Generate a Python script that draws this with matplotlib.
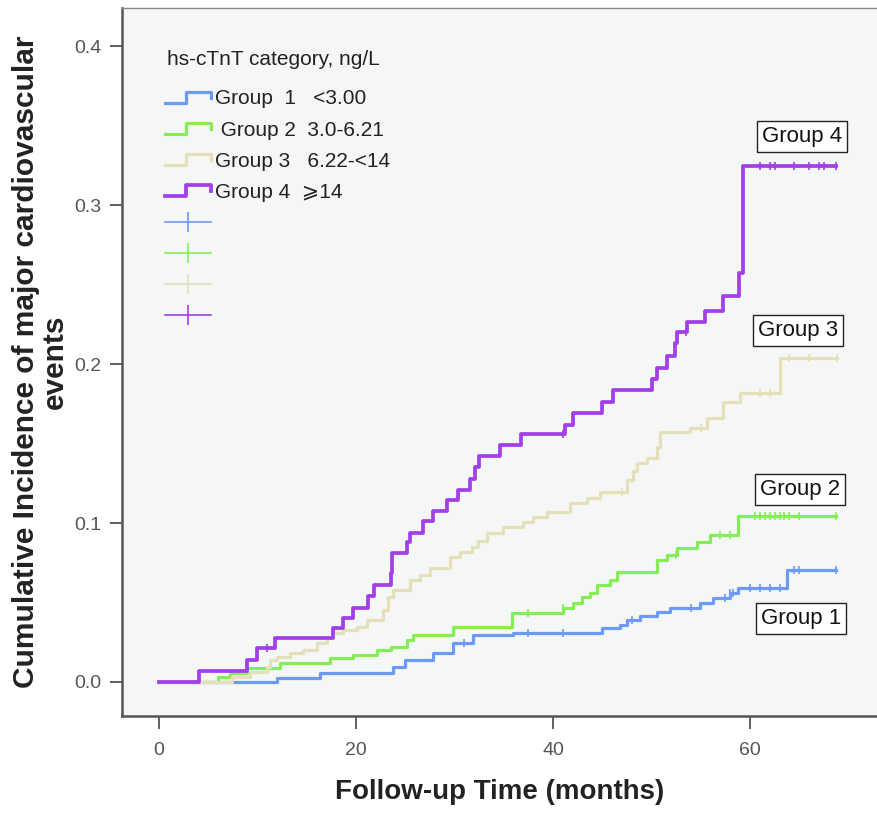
import matplotlib
matplotlib.use("Agg")
import matplotlib.pyplot as plt
import numpy as np
from matplotlib.lines import Line2D
from matplotlib.legend_handler import HandlerBase

plt.rcParams['font.family'] = ['Liberation Sans', 'DejaVu Sans', 'Noto Sans CJK SC']

# follow-up times (months) where each curve steps, and cumulative incidence after the step
g1_t = [0, 12.0, 16.3, 23.8, 25.0, 27.8, 29.8, 31.9, 35.9, 45.0, 46.8, 47.5, 48.8, 50.6, 51.9, 54.9, 56.2, 58.0, 58.8, 63.8]
g1_y = [0, 0.0025, 0.0057, 0.0094, 0.0138, 0.018, 0.0245, 0.0296, 0.031, 0.034, 0.0358, 0.039, 0.0415, 0.044, 0.0465, 0.050, 0.053, 0.056, 0.059, 0.0704]

g2_t = [0, 6.0, 7.2, 8.9, 12.3, 17.4, 19.7, 22.1, 23.5, 25.2, 25.8, 29.8, 35.8, 41.0, 42.0, 42.9, 43.8, 44.5, 45.8, 46.5, 50.6, 51.6, 52.6, 54.6, 55.9, 58.8]
g2_y = [0, 0.003, 0.0057, 0.0088, 0.012, 0.015, 0.017, 0.020, 0.022, 0.0264, 0.0296, 0.0346, 0.0434, 0.0465, 0.0497, 0.0535, 0.056, 0.061, 0.064, 0.069, 0.0767, 0.080, 0.0843, 0.088, 0.0925, 0.1044]

g3_t = [0, 7.4, 9.2, 11.0, 11.3, 12.0, 13.3, 14.6, 16.0, 17.1, 17.7, 18.7, 20.1, 21.1, 22.7, 23.2, 23.8, 25.5, 26.5, 27.5, 29.5, 30.6, 31.8, 32.4, 33.3, 34.9, 37.0, 38.0, 39.4, 41.7, 43.5, 44.8, 47.5, 48.1, 48.5, 49.5, 50.6, 50.9, 53.9, 55.6, 57.3, 59.0, 63.0]
g3_y = [0, 0.003, 0.0063, 0.0094, 0.0138, 0.0157, 0.018, 0.020, 0.0245, 0.0277, 0.031, 0.033, 0.0346, 0.039, 0.045, 0.0535, 0.058, 0.064, 0.067, 0.072, 0.0786, 0.082, 0.085, 0.089, 0.094, 0.0975, 0.1006, 0.104, 0.107, 0.1126, 0.116, 0.1195, 0.127, 0.133, 0.138, 0.141, 0.148, 0.157, 0.160, 0.166, 0.176, 0.182, 0.204]

g4_t = [0, 4.06, 8.93, 9.95, 11.8, 17.7, 18.7, 19.7, 21.2, 21.8, 23.5, 23.7, 25.2, 25.5, 26.8, 27.8, 29.2, 30.4, 31.6, 32.1, 32.5, 34.6, 36.75, 41.2, 42.0, 45.0, 46.1, 50.05, 50.6, 51.6, 52.4, 52.6, 53.6, 55.4, 57.3, 58.9, 59.3]
g4_y = [0, 0.0069, 0.0138, 0.0214, 0.0277, 0.034, 0.0403, 0.0465, 0.054, 0.061, 0.0686, 0.081, 0.088, 0.094, 0.101, 0.1075, 0.1145, 0.121, 0.128, 0.135, 0.142, 0.149, 0.156, 0.1616, 0.169, 0.176, 0.1836, 0.1906, 0.1975, 0.205, 0.213, 0.220, 0.2264, 0.2333, 0.2428, 0.257, 0.3245]

end_t = [68.7, 68.7, 68.8, 68.7]

# censored observations (months)
g1_cens = [31.0, 37.5, 41.0, 48.0, 54.0, 57.5, 58.0, 58.3, 60.0, 61.0, 62.0, 63.0, 64.5, 65.0, 68.7]
g2_cens = [37.5, 41.0, 52.5, 57.0, 58.0, 60.5, 61.0, 61.5, 62.0, 62.5, 63.0, 63.5, 64.0, 65.0, 68.7]
g3_cens = [47.0, 55.0, 61.0, 62.0, 64.0, 66.0, 68.8]
g4_cens = [11.0, 41.0, 53.5, 61.0, 62.0, 62.5, 64.5, 66.0, 67.0, 67.5, 68.7]

labels = ["Group  1   <3.00", " Group 2  3.0-6.21", "Group 3   6.22-<14", "Group 4  \u2a7e14"]
colors = ['#6d9af3', '#86ee55', '#e4e0b9', '#a33fe6']
widths = [2.3, 2.3, 2.3, 2.7]
box_labels = ["Group 1", "Group 2", "Group 3", "Group 4"]


class StepHandler(HandlerBase):
    # draws the little step icon used by the SPSS legend
    def create_artists(self, legend, orig_handle, xdescent, ydescent, width, height, fontsize, trans):
        x = np.array([0, 0.45, 0.45, 1.0, 1.0]) * width - xdescent
        y = np.array([0.1, 0.1, 0.85, 0.85, 0.45]) * height - ydescent
        ln = Line2D(x, y, color=orig_handle.get_color(), lw=orig_handle.get_linewidth(), transform=trans)
        return [ln]


fig = plt.figure(figsize=(8.78, 8.13), dpi=100)
ax = fig.add_axes([0.139, 0.1193, 0.861, 0.8708])
ax.set_facecolor('#f5f7f7')

all_t = [g1_t, g2_t, g3_t, g4_t]
all_y = [g1_y, g2_y, g3_y, g4_y]
all_c = [g1_cens, g2_cens, g3_cens, g4_cens]

step_handles = []
cens_handles = []
for i in range(4):
    t = np.array(all_t[i] + [end_t[i]])
    y = np.array(all_y[i] + [all_y[i][-1]])
    h, = ax.step(t, y, where='post', color=colors[i], lw=widths[i], zorder=2 + i)
    c = np.array(all_c[i])
    cy = np.array(all_y[i])[np.searchsorted(all_t[i], c, side='right') - 1]
    ax.plot(c, cy, ls='none', marker='|', ms=6, mew=1.2, color=colors[i], zorder=2 + i)
    step_handles.append(h)
    cens_handles.append(Line2D([], [], color=colors[i], lw=1.2, marker='|', ms=15, mew=1.2))

# group labels at right
box_pos = [(65.2, 0.040), (65.1, 0.121), (64.9, 0.221), (65.3, 0.343)]
for txt, (bx, by) in zip(box_labels, box_pos):
    ax.text(bx, by, txt, ha='center', va='center', fontsize=16, color='#111111',
            bbox=dict(boxstyle='square,pad=0.22', fc='white', ec='#222222', lw=1.0), zorder=10)

# legend title drawn separately so the gap below it matches
ax.text(0.06, 0.928, 'hs-cTnT category, ng/L', transform=ax.transAxes, fontsize=15,
        color='#222222', ha='left', va='center')

handles = step_handles + cens_handles
leg_labels = labels + [''] * 4
hmap = {h: StepHandler() for h in step_handles}
leg = ax.legend(handles, leg_labels, handler_map=hmap, loc='upper left', bbox_to_anchor=(0.057, 0.885),
                frameon=False, fontsize=15, handlelength=2.2, handletextpad=0.2, labelspacing=0.58,
                borderaxespad=0, borderpad=0)
for t in leg.get_texts():
    t.set_color('#222222')

ax.set_xlim(-3.76, 73.0)
ax.set_ylim(-0.0214, 0.424)
ax.set_xticks([0, 20, 40, 60])
ax.set_yticks([0.0, 0.1, 0.2, 0.3, 0.4])
ax.set_yticklabels(['0.0', '0.1', '0.2', '0.3', '0.4'])
ax.tick_params(axis='both', direction='out', length=9, width=1.2, colors='#444444', labelsize=14,
               labelcolor='#555555', pad=6)
ax.tick_params(axis='x', pad=10)

for s in ['left', 'bottom']:
    ax.spines[s].set_color('#555555')
    ax.spines[s].set_linewidth(1.8)
ax.spines['top'].set_color('#888888')
ax.spines['top'].set_linewidth(1.0)
ax.spines['right'].set_visible(False)

ax.set_xlabel('Follow-up Time (months)', fontsize=20, fontweight='bold', color='#222222', labelpad=14)
ax.set_ylabel('Cumulative Incidence of major cardiovascular\nevents', fontsize=21.5, fontweight='bold',
              color='#222222', labelpad=4, linespacing=1.0)

fig.savefig('out.png', dpi=100, facecolor='white')
